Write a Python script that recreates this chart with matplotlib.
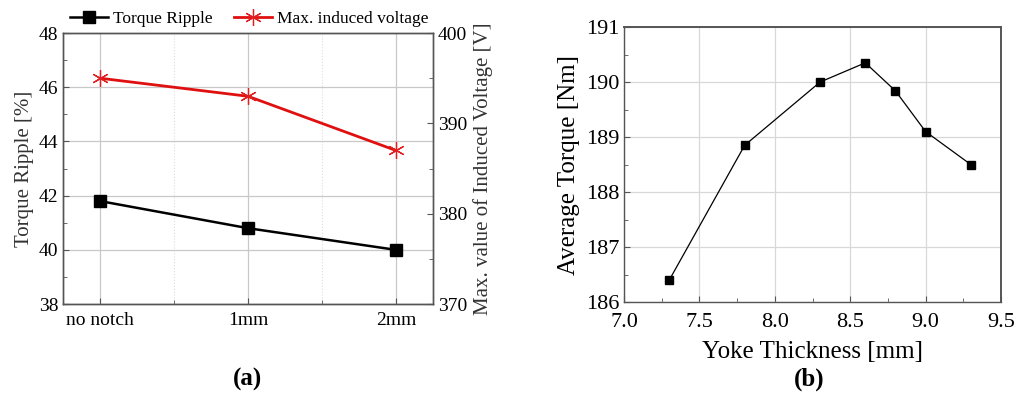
import matplotlib
matplotlib.use("Agg")
import matplotlib.pyplot as plt
from matplotlib.ticker import MultipleLocator, FixedLocator

plt.rcParams['font.family'] = ['Liberation Serif', 'DejaVu Serif']

# (a) notch study
notch_labels = ["no notch", "1mm", "2mm"]
torque_ripple = [41.8, 40.8, 40.0]          # %
induced_voltage = [395.0, 393.0, 387.0]     # V

# (b) yoke thickness study
yoke_thickness = [7.3, 7.8, 8.3, 8.6, 8.8, 9.0, 9.3]            # mm
avg_torque = [186.4, 188.85, 190.0, 190.35, 189.84, 189.1, 188.5]  # Nm

spine_col = "#555555"
grid_col = "#c8c8c8"

fig = plt.figure(figsize=(10.21, 3.98), dpi=100)

# ---------------- panel (a) ----------------
ax1 = fig.add_axes([0.0617, 0.236, 0.3624, 0.681])
x = list(range(len(notch_labels)))
l1, = ax1.plot(x, torque_ripple, color="black", lw=1.8, marker="s",
               ms=9, mfc="black", mec="black", zorder=3)
ax1.set_xlim(-0.25, 2.25)
ax1.set_ylim(38, 48)
ax1.set_xticks(x)
ax1.set_xticklabels(notch_labels)
ax1.xaxis.set_minor_locator(FixedLocator([0.5, 1.5]))
ax1.yaxis.set_major_locator(MultipleLocator(2))
ax1.yaxis.set_minor_locator(MultipleLocator(1))
ax1.grid(True, which="major", color=grid_col, lw=0.9)
ax1.grid(True, which="minor", axis="x", color="#dddddd", lw=0.8, ls=":")
ax1.set_axisbelow(True)
ax1.tick_params(which="both", direction="in", labelsize=14, color=spine_col)
ax1.tick_params(which="major", length=4)
ax1.tick_params(which="minor", length=3)
ax1.tick_params(axis="x", pad=6)
ax1.set_ylabel("Torque Ripple [%]", fontsize=15, color="#333333", labelpad=3)

ax2 = ax1.twinx()
l2, = ax2.plot(x, induced_voltage, color="#e01010", lw=2.0,
               marker=(6, 2, 0), ms=12, mec="#e02020", mew=0.9, zorder=3)
ax2.set_ylim(370, 400)
ax2.yaxis.set_major_locator(MultipleLocator(10))
ax2.yaxis.set_minor_locator(MultipleLocator(5))
ax2.tick_params(which="both", direction="in", labelsize=14, color=spine_col)
ax2.tick_params(which="major", length=4)
ax2.tick_params(which="minor", length=3)
ax2.set_ylabel("Max. value of Induced Voltage [V]", fontsize=15,
               color="#333333", labelpad=4)

for ax in (ax1, ax2):
    for s in ax.spines.values():
        s.set_color(spine_col)
        s.set_linewidth(1.0)

fig.legend([l1, l2], ["Torque Ripple", "Max. induced voltage"], ncol=2,
           loc="center", bbox_to_anchor=(0.244, 0.952), frameon=False,
           fontsize=12.5, handlelength=2.2, columnspacing=1.2,
           handletextpad=0.3, borderaxespad=0)

fig.text(0.242, 0.03, "(a)", fontsize=18, fontweight="bold", ha="center")

# ---------------- panel (b) ----------------
ax3 = fig.add_axes([0.6112, 0.241, 0.3692, 0.691])
ax3.plot(yoke_thickness, avg_torque, color="black", lw=0.9, marker="s",
         ms=5.5, mfc="black", mec="black", zorder=3)
ax3.set_xlim(7.0, 9.5)
ax3.set_ylim(186, 191)
ax3.xaxis.set_major_locator(MultipleLocator(0.5))
ax3.xaxis.set_minor_locator(MultipleLocator(0.25))
ax3.yaxis.set_major_locator(MultipleLocator(1))
ax3.yaxis.set_minor_locator(MultipleLocator(0.5))
ax3.xaxis.set_major_formatter(plt.FormatStrFormatter("%.1f"))
ax3.grid(True, which="major", color="#d8d8d8", lw=0.9)
ax3.set_axisbelow(True)
ax3.tick_params(which="both", direction="in", labelsize=16, color=spine_col)
ax3.tick_params(which="major", length=4)
ax3.tick_params(which="minor", length=3)
ax3.tick_params(axis="x", pad=8)
ax3.set_xlabel("Yoke Thickness [mm]", fontsize=18, labelpad=6)
ax3.set_ylabel("Average Torque [Nm]", fontsize=18)
for s in ax3.spines.values():
    s.set_color(spine_col)
    s.set_linewidth(1.0)
ax3.spines["top"].set_linewidth(1.4)
ax3.spines["right"].set_linewidth(1.4)

fig.text(0.793, 0.03, "(b)", fontsize=18, fontweight="bold", ha="center")

fig.savefig("out.png", dpi=100)
